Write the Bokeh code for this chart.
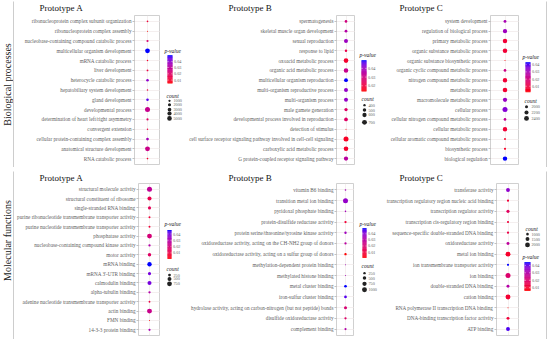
import numpy as np
from math import pi
from bokeh.plotting import figure
from bokeh.models import (FactorRange, Range1d, LinearColorMapper,
                          ColumnDataSource, Spacer)
from bokeh.layouts import row, column
from bokeh.core.properties import value
from bokeh.embed import file_html
from bokeh.resources import INLINE

# ---------------------------------------------------------------- data
bp_a_terms = ["ribonucleoprotein complex subunit organization",
              "ribonucleoprotein complex assembly",
              "nucleobase-containing compound catabolic process",
              "multicellular organism development",
              "mRNA catabolic process",
              "liver development",
              "heterocycle catabolic process",
              "hepatobiliary system development",
              "gland development",
              "developmental process",
              "determination of heart left/right asymmetry",
              "convergent extension",
              "cellular protein-containing complex assembly",
              "anatomical structure development",
              "RNA catabolic process"]
bp_a_count = [600, 450, 900, 5400, 550, 650, 1300, 550, 1300, 6000, 900, 550, 1500, 5600, 600]
bp_a_p = [0.012, 0.005, 0.022, 0.049, 0.010, 0.014, 0.040, 0.014, 0.046, 0.028,
          0.020, 0.014, 0.036, 0.027, 0.010]

bp_b_terms = ["spermatogenesis",
              "skeletal muscle organ development",
              "sexual reproduction",
              "response to lipid",
              "oxoacid metabolic process",
              "organic acid metabolic process",
              "multicellular organism reproduction",
              "multi-organism reproductive process",
              "multi-organism process",
              "male gamete generation",
              "developmental process involved in reproduction",
              "detection of stimulus",
              "cell surface receptor signaling pathway involved in cell-cell signaling",
              "carboxylic acid metabolic process",
              "G protein-coupled receptor signaling pathway"]
bp_b_count = [420, 430, 560, 410, 650, 640, 540, 560, 560, 480, 530, 360, 720, 650, 610]
bp_b_p = [0.030, 0.036, 0.040, 0.022, 0.018, 0.032, 0.049, 0.041, 0.041, 0.026,
          0.026, 0.014, 0.017, 0.018, 0.035]

bp_c_terms = ["system development",
              "regulation of biological process",
              "primary metabolic process",
              "organic substance metabolic process",
              "organic substance biosynthetic process",
              "organic cyclic compound metabolic process",
              "nitrogen compound metabolic process",
              "metabolic process",
              "macromolecule metabolic process",
              "cellular process",
              "cellular nitrogen compound metabolic process",
              "cellular metabolic process",
              "cellular aromatic compound metabolic process",
              "biosynthetic process",
              "biological regulation"]
bp_c_count = [1980, 2250, 2300, 2310, 1850, 1960, 2300, 2340, 2260, 2450, 1960, 2300, 1880, 1900, 2300]
bp_c_p = [0.030, 0.032, 0.008, 0.008, 0.002, 0.022, 0.008, 0.007, 0.033, 0.036,
          0.024, 0.008, 0.006, 0.006, 0.043]

mf_a_terms = ["structural molecule activity",
              "structural constituent of ribosome",
              "single-stranded RNA binding",
              "purine ribonucleotide transmembrane transporter activity",
              "purine nucleotide transmembrane transporter activity",
              "phosphatase activity",
              "nucleobase-containing compound kinase activity",
              "motor activity",
              "mRNA binding",
              "mRNA 3'-UTR binding",
              "calmodulin binding",
              "alpha-tubulin binding",
              "adenine nucleotide transmembrane transporter activity",
              "actin binding",
              "FMN binding",
              "14-3-3 protein binding"]
mf_a_count = [820, 520, 300, 150, 150, 760, 180, 380, 620, 330, 520, 180, 140, 800, 110, 170]
mf_a_p = [0.026, 0.012, 0.014, 0.008, 0.008, 0.020, 0.030, 0.016, 0.046, 0.040,
          0.040, 0.030, 0.010, 0.024, 0.001, 0.032]

mf_b_terms = ["vitamin B6 binding",
              "transition metal ion binding",
              "pyridoxal phosphate binding",
              "protein-disulfide reductase activity",
              "protein serine/threonine/tyrosine kinase activity",
              "oxidoreductase activity, acting on the CH-NH2 group of donors",
              "oxidoreductase activity, acting on a sulfur group of donors",
              "methylation-dependent protein binding",
              "methylated histone binding",
              "metal cluster binding",
              "iron-sulfur cluster binding",
              "hydrolase activity, acting on carbon-nitrogen (but not peptide) bonds",
              "disulfide oxidoreductase activity",
              "complement binding"]
mf_b_count = [150, 1050, 150, 220, 240, 220, 240, 130, 130, 300, 300, 360, 220, 200]
mf_b_p = [0.035, 0.038, 0.035, 0.008, 0.036, 0.030, 0.001, 0.036, 0.036, 0.049,
          0.046, 0.020, 0.018, 0.032]

mf_c_terms = ["transferase activity",
              "transcription regulatory region nucleic acid binding",
              "transcription regulator activity",
              "transcription cis-regulatory region binding",
              "sequence-specific double-stranded DNA binding",
              "oxidoreductase activity",
              "metal ion binding",
              "ion transmembrane transporter activity",
              "ion binding",
              "double-stranded DNA binding",
              "cation binding",
              "RNA polymerase II transcription DNA binding",
              "DNA-binding transcription factor activity",
              "ATP binding"]
mf_c_count = [1500, 880, 1150, 880, 900, 1100, 2100, 880, 2150, 1100, 2100, 760, 1100, 1500]
mf_c_p = [0.036, 0.012, 0.018, 0.012, 0.014, 0.028, 0.010, 0.044, 0.020, 0.030,
          0.011, 0.006, 0.012, 0.042]

count_breaks_bp_a = [1000, 2000, 3000, 4000, 5000]
count_breaks_bp_b = [400, 500, 600, 700]
count_breaks_bp_c = [2000, 2200, 2400]
count_breaks_mf_a = [250, 500, 750]
count_breaks_mf_b = [250, 500, 750, 1000]
count_breaks_mf_c = [1000, 1500, 2000]
p_ticks = [0.01, 0.02, 0.03, 0.04]

section_labels = ["Biological processes", "Molecular functions"]
panel_titles = ["Prototype A", "Prototype B", "Prototype C"]

# ---------------------------------------------------------------- style
FONT = "Liberation Serif"
BORDER = "#9c9c9c"
TXT = "#616161"

WHITE = np.array([0.95047, 1.0, 1.08883])
M = np.array([[0.4124564, 0.3575761, 0.1804375],
              [0.2126729, 0.7151522, 0.0721750],
              [0.0193339, 0.1191920, 0.9503041]])
MINV = np.linalg.inv(M)


def rgb_to_lab(rgb):
    c = np.asarray(rgb, float)
    lin = np.where(c <= 0.04045, c / 12.92, ((c + 0.055) / 1.055) ** 2.4)
    xyz = M @ lin / WHITE
    f = np.where(xyz > 0.008856, np.cbrt(xyz), 7.787 * xyz + 16 / 116)
    return np.array([116 * f[1] - 16, 500 * (f[0] - f[1]), 200 * (f[1] - f[2])])


def lab_to_hex(lab):
    L, a, b = lab
    fy = (L + 16) / 116
    f = np.array([fy + a / 500, fy, fy - b / 200])
    xyz = np.where(f ** 3 > 0.008856, f ** 3, (f - 16 / 116) / 7.787) * WHITE
    lin = np.clip(MINV @ xyz, 0, 1)
    c = np.where(lin <= 0.0031308, 12.92 * lin, 1.055 * lin ** (1 / 2.4) - 0.055)
    c = np.clip(c, 0, 1)
    return "#%02x%02x%02x" % tuple(int(round(v * 255)) for v in c)


LO, HI = rgb_to_lab([1, 0, 0]), rgb_to_lab([0, 0, 1])
PALETTE = [lab_to_hex(LO + (HI - LO) * t) for t in np.linspace(0, 1, 256)]


def dot_size(c, cmin, cmax):
    t = (np.asarray(c, float) - cmin) / (cmax - cmin)
    return 1.0 + 4.0 * np.sqrt(np.clip(t, 0, 1))


def blank(w, h, color=None):
    f = figure(width=w, height=h, x_range=Range1d(0, w), y_range=Range1d(h, 0),
               x_axis_type=None, y_axis_type=None, min_border=0,
               toolbar_location=None, output_backend="svg")
    f.outline_line_color = None
    if color:
        f.background_fill_color = color
        f.border_fill_color = color
    return f


def make_panel(terms, counts, pvals, fw, fh, left, bottom):
    n = len(terms)
    mapper = LinearColorMapper(palette=PALETTE, low=min(pvals), high=max(pvals))
    cmin, cmax = min(counts), max(counts)
    p = figure(width=fw, height=fh,
               x_range=FactorRange(factors=["x"]),
               y_range=FactorRange(factors=terms[::-1], range_padding=0.2 / n),
               output_backend="svg", toolbar_location=None,
               min_border_left=left, min_border_right=0,
               min_border_top=0, min_border_bottom=bottom)
    p.outline_line_color = "#c4c4c4"
    p.outline_line_width = 0.8
    p.grid.grid_line_color = "#ece4e4"
    p.grid.grid_line_width = 0.6
    p.xaxis.visible = False
    p.yaxis.major_label_text_font = FONT
    p.yaxis.major_label_text_font_size = "5.2px"
    p.yaxis.major_label_text_color = TXT
    p.yaxis.major_label_standoff = 1
    p.yaxis.axis_line_color = None
    p.yaxis.major_tick_in = 0
    p.yaxis.major_tick_out = 2
    p.yaxis.major_tick_line_color = "#999999"
    p.yaxis.major_tick_line_width = 0.6
    src = ColumnDataSource(dict(x=["x"] * n, y=terms, count=counts, p=pvals,
                                size=dot_size(counts, cmin, cmax)))
    p.scatter("x", "y", size="size", source=src,
              fill_color={"field": "p", "transform": mapper}, line_color=None)
    return p, mapper, (cmin, cmax)


def make_legend(w, h, mapper, breaks, cminmax, spec):
    f = blank(w, h)
    tx, ty = spec["pv_title"]
    f.text(x=[tx], y=[ty], text=["p-value"], text_font=value(FONT),
           text_font_size="5.5px", text_font_style="italic", text_color="#222222",
           text_align="left", text_baseline="middle")
    bx, by, bw, bh = spec["bar"]
    lo, hi = mapper.low, mapper.high
    vals = np.linspace(lo, hi, 61)
    edges = by + bh * (hi - vals) / (hi - lo)
    step = bh / 60.0
    bar = ColumnDataSource(dict(v=vals, top=edges - step / 2 - 0.15,
                                bottom=edges + step / 2 + 0.15))
    f.quad(left=bx, right=bx + bw, top="top", bottom="bottom", source=bar,
           fill_color={"field": "v", "transform": mapper}, line_color=None)
    tk = [t for t in p_ticks if lo <= t <= hi]
    ty_ = [by + bh * (hi - t) / (hi - lo) for t in tk]
    f.segment(x0=[bx] * len(tk), x1=[bx + bw * 0.22] * len(tk), y0=ty_, y1=ty_,
              line_color="white", line_width=0.6)
    f.segment(x0=[bx + bw * 0.78] * len(tk), x1=[bx + bw] * len(tk), y0=ty_, y1=ty_,
              line_color="white", line_width=0.6)
    f.text(x=[bx + bw + 1.5] * len(tk), y=ty_, text=["%.2f" % t for t in tk],
           text_font=value(FONT), text_font_size="4.2px", text_color=TXT,
           text_align="left", text_baseline="middle")
    cx, cy = spec["count_title"]
    f.text(x=[cx], y=[cy], text=["count"], text_font=value(FONT),
           text_font_size="5.5px", text_font_style="italic", text_color="#222222",
           text_align="left", text_baseline="middle")
    ys = spec["entries"]
    k = len(breaks)
    f.scatter(x=[spec["dot_x"]] * k, y=ys, size=dot_size(breaks, *cminmax),
              fill_color="#222222", line_color=None)
    f.text(x=[spec["label_x"]] * k, y=ys, text=[str(b) for b in breaks],
           text_font=value(FONT), text_font_size="4.2px", text_color=TXT,
           text_align="left", text_baseline="middle")
    return f


# ---------------------------------------------------------------- layout
INNER_W = 532
BP = dict(inner_h=166, strip=14, bottom=3, label_y=84,
          w=dict(a=(146, 120), la=26, b=(169, 147), lb=28, c=(136, 107), lc=27),
          title_x=[25, 214, 385], title_y=6.5,
          specs=[
              dict(pv_title=(4, 36), bar=(7, 41, 5, 28), count_title=(6, 82),
                   entries=[87, 91, 96, 100, 105], dot_x=9, label_x=13),
              dict(pv_title=(4, 40), bar=(6, 46, 5, 31), count_title=(6, 85),
                   entries=[91.5, 96.5, 101.5, 109], dot_x=9, label_x=13),
              dict(pv_title=(3, 42), bar=(6, 48, 5, 30), count_title=(5, 87),
                   entries=[93, 99, 105], dot_x=7, label_x=12),
          ])
MF = dict(inner_h=168, strip=12, bottom=4, label_y=70,
          w=dict(a=(146, 120), la=28, b=(166, 142), lb=29, c=(136, 107), lc=27),
          title_x=[25, 214, 385], title_y=6.5,
          specs=[
              dict(pv_title=(4, 42), bar=(7, 48, 4, 29), count_title=(6, 88),
                   entries=[94, 98, 103], dot_x=9, label_x=13),
              dict(pv_title=(5, 42), bar=(8, 46, 4, 30), count_title=(7, 85),
                   entries=[92, 97, 103, 109], dot_x=10, label_x=14),
              dict(pv_title=(3, 75), bar=(5, 81, 6, 29), count_title=(6, 47),
                   entries=[52, 57, 63], dot_x=8, label_x=12),
          ])


def section(data, cfg, label):
    H = cfg["inner_h"] - cfg["strip"]
    kids = []
    keys = [("a", "la"), ("b", "lb"), ("c", "lc")]
    for (terms, counts, pvals, breaks), (k, lk), spec in zip(data, keys, cfg["specs"]):
        fw, left = cfg["w"][k]
        p, mapper, cmm = make_panel(terms, counts, pvals, fw, H, left, cfg["bottom"])
        kids += [p, make_legend(cfg["w"][lk], H, mapper, breaks, cmm, spec)]
    strip = blank(INNER_W, cfg["strip"])
    strip.text(x=cfg["title_x"], y=[cfg["title_y"]] * 3, text=panel_titles,
               text_font=value(FONT), text_font_size="9px", text_color="#111111",
               text_align="left", text_baseline="middle")
    inner = column(strip, row(*kids))
    box = column(blank(INNER_W + 2, 1, BORDER),
                 row(blank(1, cfg["inner_h"], BORDER), inner,
                     blank(1, cfg["inner_h"], BORDER)),
                 blank(INNER_W + 2, 1, BORDER))
    lab = blank(13, cfg["inner_h"] + 2)
    lab.text(x=[7], y=[cfg["label_y"]], text=[label], angle=pi / 2,
             text_font=value(FONT), text_font_size="10px", text_color="#222222",
             text_align="center", text_baseline="middle")
    return row(lab, box)


bp = section([(bp_a_terms, bp_a_count, bp_a_p, count_breaks_bp_a),
              (bp_b_terms, bp_b_count, bp_b_p, count_breaks_bp_b),
              (bp_c_terms, bp_c_count, bp_c_p, count_breaks_bp_c)],
             BP, section_labels[0])
mf = section([(mf_a_terms, mf_a_count, mf_a_p, count_breaks_mf_a),
              (mf_b_terms, mf_b_count, mf_b_p, count_breaks_mf_b),
              (mf_c_terms, mf_c_count, mf_c_p, count_breaks_mf_c)],
             MF, section_labels[1])

layout = column(bp, Spacer(width=547, height=2), mf)
open("out.html", "w").write(file_html(layout, INLINE))
